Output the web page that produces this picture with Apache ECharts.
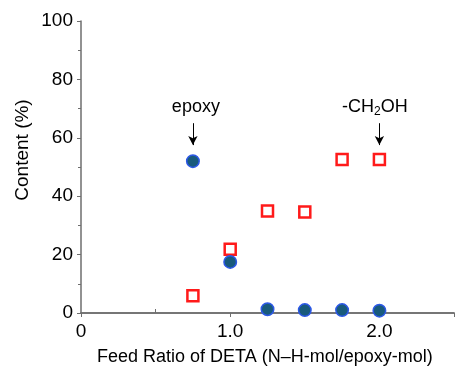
<!DOCTYPE html>
<html>
<head>
<meta charset="utf-8">
<script src="https://cdn.jsdelivr.net/npm/echarts@6/dist/echarts.min.js"></script>
<style>
  html, body { margin: 0; padding: 0; background: #fff; }
  #chart { width: 457px; height: 370px; }
</style>
</head>
<body>
<div id="chart"></div>
<script>
// Feed ratio of DETA (N–H mol / epoxy mol)
const feedRatio = [0.75, 1.0, 1.25, 1.5, 1.75, 2.0];
// Remaining epoxy content (%)
const epoxyContent = [52.0, 17.5, 1.3, 1.0, 1.0, 0.8];
// -CH2OH content (%)
const ch2ohContent = [5.9, 21.8, 34.9, 34.6, 52.6, 52.6];
// Axis tick labels
const xTickLabels = { 0: '0', 1: '1.0', 2: '2.0' };
const xMinorTicks = [0.5, 1.5];
const yTicks = [0, 20, 40, 60, 80, 100];

const font = 'Liberation Sans, Arial, sans-serif';
const axisGrey = '#6e6e6e';

const toPairs = (xs, ys) => xs.map((x, i) => [x, ys[i]]);

const chart = echarts.init(document.getElementById('chart'));
chart.setOption({
  animation: false,
  backgroundColor: '#fff',
  grid: { left: 81, right: 0, top: 21, bottom: 57 },
  xAxis: [{
    type: 'value', min: 0, max: 2.5, interval: 1,
    axisLine: { show: true, onZero: false, lineStyle: { color: axisGrey, width: 1.5 } },
    axisTick: { show: true, inside: false, length: 4, lineStyle: { color: axisGrey } },
    splitLine: { show: false },
    axisLabel: {
      color: '#000', fontFamily: font, fontSize: 19, margin: 9,
      formatter: v => xTickLabels[v] !== undefined ? xTickLabels[v] : ''
    }
  }, {
    type: 'value', min: 0, max: 2.5, position: 'top',
    axisLine: { show: true, lineStyle: { color: axisGrey, width: 1.5 } },
    axisTick: { show: false }, axisLabel: { show: false }, splitLine: { show: false }
  }, {
    // half-step ticks drawn on the inner side of the bottom axis
    type: 'value', min: 0, max: 2.5, position: 'bottom',
    axisLine: { show: false },
    axisTick: { show: true, inside: true, length: 4, customValues: xMinorTicks, lineStyle: { color: axisGrey } },
    axisLabel: { show: false }, splitLine: { show: false }
  }],
  yAxis: {
    type: 'value', min: 0, max: 100, interval: 20,
    axisLine: { show: true, lineStyle: { color: axisGrey, width: 1.5 } },
    axisTick: { show: true, length: 4, lineStyle: { color: axisGrey } },
    minorTick: { show: true, splitNumber: 2, length: 3, lineStyle: { color: axisGrey } },
    splitLine: { show: false },
    axisLabel: {
      color: '#000', fontFamily: font, fontSize: 19, margin: 8,
      formatter: v => yTicks.includes(v) ? String(v) : ''
    }
  },
  graphic: [
    {
      type: 'text', left: 97, top: 348,
      style: { text: 'Feed Ratio of DETA (N\u2013H-mol/epoxy-mol)', fontFamily: font, fontSize: 18, fill: '#000' }
    },
    {
      type: 'text', rotation: Math.PI / 2, originX: 0, originY: 0,
      style: { text: 'Content (%)', fontFamily: font, fontSize: 19, fill: '#000', align: 'center', verticalAlign: 'top' },
      position: [13, 150]
    }
  ],
  series: [
    {
      name: '-CH2OH', type: 'scatter',
      data: toPairs(feedRatio, ch2ohContent),
      symbol: 'rect', symbolSize: 11,
      itemStyle: { color: '#fff', borderColor: '#ff1a1a', borderWidth: 2.5, opacity: 1 },
      z: 3
    },
    {
      name: 'epoxy', type: 'scatter',
      data: toPairs(feedRatio, epoxyContent),
      symbol: 'circle', symbolSize: 12.5,
      itemStyle: { color: '#185a7c', borderColor: '#2c58e6', borderWidth: 1.5, opacity: 1 },
      z: 4,
      markLine: {
        silent: true, animation: false,
        symbol: ['none', 'arrow'], symbolSize: [7, 9],
        lineStyle: { color: '#000', width: 1, type: 'solid' },
        label: { show: false },
        data: [
          [{ coord: [0.75, 65] }, { coord: [0.75, 57.5] }],
          [{ coord: [2.0, 65] }, { coord: [2.0, 57.5] }]
        ]
      },
      markPoint: {
        silent: true, animation: false,
        symbol: 'circle', symbolSize: 0,
        label: {
          show: true, position: 'inside', color: '#000', fontFamily: font, fontSize: 18,
          formatter: p => p.name,
          rich: {
            n: { fontFamily: font, fontSize: 18, color: '#000' },
            s: { fontFamily: font, fontSize: 12, color: '#000', verticalAlign: 'bottom', padding: [10, 0, 0, 0] }
          }
        },
        data: [
          { name: 'epoxy', coord: [0.77, 70.5] },
          { name: '{n|-CH}{s|2}{n|OH}', coord: [1.97, 70.5] }
        ]
      }
    }
  ]
});
</script>
</body>
</html>
